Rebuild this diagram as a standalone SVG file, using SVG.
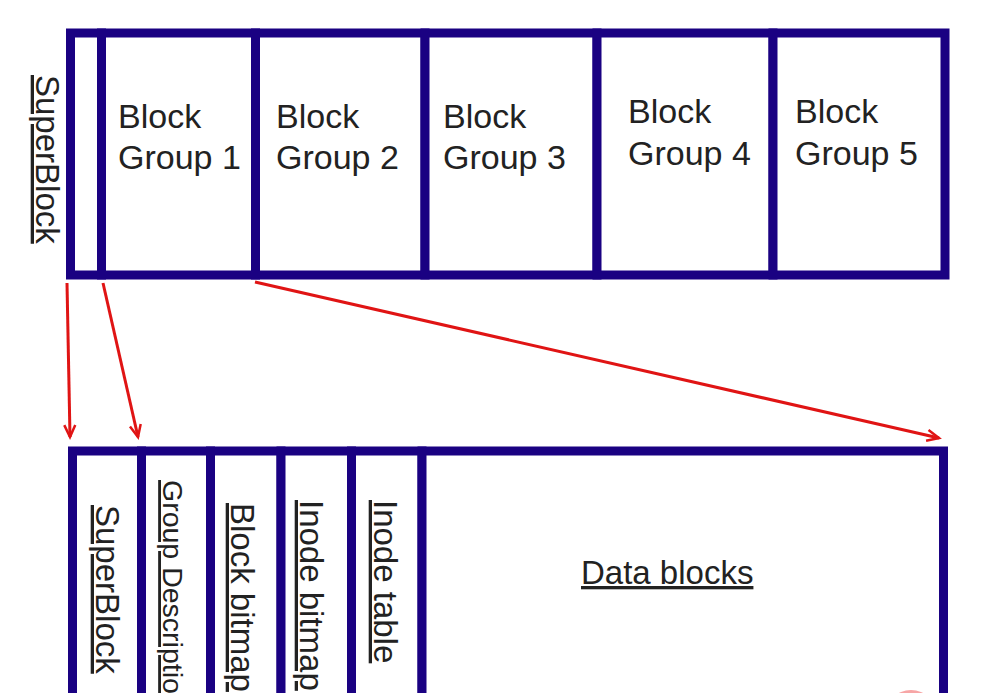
<svg xmlns="http://www.w3.org/2000/svg" width="988" height="693" viewBox="0 0 988 693">
<style>
.cell{fill:#ffffff;stroke:#1a0182;stroke-width:9}
.t{font-family:"Liberation Sans",Arial,sans-serif;font-size:33px;fill:#222222}
.h{font-size:34px}
.s{font-size:28.5px}
.u{text-decoration:underline}
.arr{stroke:#e01414;stroke-width:3;fill:none;marker-end:url(#ah)}
</style>
<defs>
<marker id="ah" markerWidth="16" markerHeight="14" refX="13" refY="7" orient="auto" markerUnits="userSpaceOnUse">
<path d="M1,1.5 L13,7 L1,12.5" fill="none" stroke="#e01414" stroke-width="2.5"/>
</marker>
</defs>
<rect width="988" height="693" fill="#ffffff"/>
<g id="top-superblock">
<rect class="cell" x="70.5" y="33" width="31" height="242"/>
<text class="t u" transform="translate(36,75) rotate(90)">SuperBlock</text>
</g>
<g id="block-group-1">
<rect class="cell" x="101.5" y="33" width="154" height="242"/>
<text class="t h" x="118" y="128">Block</text>
<text class="t h" x="118" y="169">Group 1</text>
</g>
<g id="block-group-2">
<rect class="cell" x="255.5" y="33" width="169.5" height="242"/>
<text class="t h" x="276" y="128">Block</text>
<text class="t h" x="276" y="169">Group 2</text>
</g>
<g id="block-group-3">
<rect class="cell" x="425" y="33" width="172" height="242"/>
<text class="t h" x="443" y="128">Block</text>
<text class="t h" x="443" y="169">Group 3</text>
</g>
<g id="block-group-4">
<rect class="cell" x="597" y="33" width="176" height="242"/>
<text class="t h" x="628" y="123">Block</text>
<text class="t h" x="628" y="165">Group 4</text>
</g>
<g id="block-group-5">
<rect class="cell" x="773" y="33" width="172" height="242"/>
<text class="t h" x="795" y="123">Block</text>
<text class="t h" x="795" y="165">Group 5</text>
</g>
<g id="bottom-superblock">
<rect class="cell" x="72.5" y="451" width="69" height="280"/>
<text class="t u" transform="translate(96,505) rotate(90)">SuperBlock</text>
</g>
<g id="group-description">
<rect class="cell" x="141.5" y="451" width="69" height="280"/>
<text class="t s u" transform="translate(163,480) rotate(90)">Group Description</text>
</g>
<g id="block-bitmap">
<rect class="cell" x="210.5" y="451" width="70.5" height="280"/>
<text class="t u" transform="translate(231,503) rotate(90)">Block bitmap</text>
</g>
<g id="inode-bitmap">
<rect class="cell" x="281" y="451" width="70.5" height="280"/>
<text class="t u" transform="translate(300,500) rotate(90)">Inode bitmap</text>
</g>
<g id="inode-table">
<rect class="cell" x="351.5" y="451" width="70.5" height="280"/>
<text class="t u" transform="translate(374,500) rotate(90)">Inode table</text>
</g>
<g id="data-blocks">
<rect class="cell" x="422" y="451" width="521.5" height="280"/>
<text class="t u" x="581" y="584">Data blocks</text>
</g>
<g id="connectors">
<line class="arr" x1="67" y1="283" x2="70" y2="437"/>
<line class="arr" x1="103" y1="283" x2="138" y2="437"/>
<line class="arr" x1="255" y1="282" x2="939" y2="438"/>
</g>
<circle cx="911" cy="716" r="26" fill="#f7a6a6"/>
</svg>
